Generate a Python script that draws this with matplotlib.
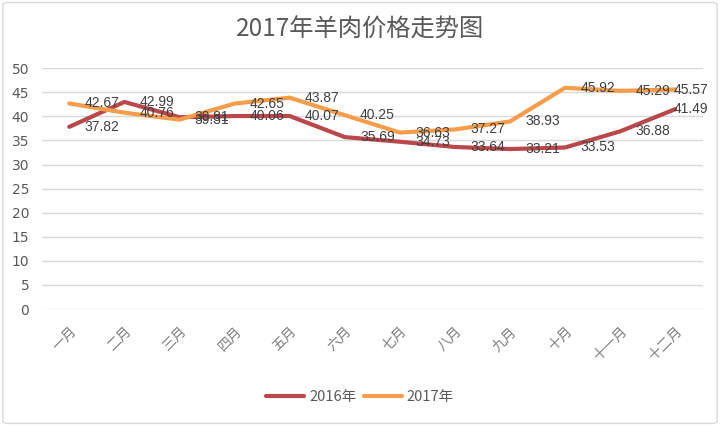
import matplotlib
matplotlib.use("Agg")
import matplotlib.pyplot as plt
from matplotlib.patches import FancyBboxPatch

plt.rcParams['font.family'] = ['Noto Sans CJK SC', 'DejaVu Sans']

months = ["一月", "二月", "三月", "四月", "五月", "六月", "七月", "八月", "九月", "十月", "十一月", "十二月"]
y2016 = [37.82, 42.99, 39.81, 40.06, 40.07, 35.69, 34.73, 33.64, 33.21, 33.53, 36.88, 41.49]
y2017 = [42.67, 40.76, 39.31, 42.65, 43.87, 40.25, 36.63, 37.27, 38.93, 45.92, 45.29, 45.57]
yticks = [0, 5, 10, 15, 20, 25, 30, 35, 40, 45, 50]

c16 = "#BA474A"
c17 = "#F59D4A"

fig = plt.figure(figsize=(7.2, 4.26), dpi=100)
ax = fig.add_axes([0.058, 0.2746, 0.918, 0.5654])
x = list(range(len(months)))
ax.plot(x, y2016, color=c16, lw=3.0, label="2016年", solid_joinstyle="round", solid_capstyle="round")
ax.plot(x, y2017, color=c17, lw=3.0, label="2017年", solid_joinstyle="round", solid_capstyle="round")

n = len(months)
for series in (y2016, y2017):
    for xi, v in zip(x, series):
        # labels sit to the right; the last one is pulled in to stay inside the chart
        dx = 11 if xi < n - 1 else -1
        ax.annotate(f"{v:.2f}", (xi, v), xytext=(dx, 0), textcoords="offset points",
                    ha="left", va="center", fontsize=10, color="#404040",
                    family=['Liberation Sans'])

ax.set_xlim(-0.5, n - 0.5)
ax.set_ylim(0, 50)
ax.set_yticks(yticks)
ax.set_xticks(x)
ax.set_xticklabels(months, rotation=45, ha="right", rotation_mode="anchor", fontsize=10, color="#7F7F7F")
for lab in ax.get_yticklabels():
    lab.set_fontsize(10)
    lab.set_color("#595959")
    lab.set_family(['DejaVu Sans'])
ax.tick_params(axis="y", length=0, pad=9)
ax.tick_params(axis="x", length=0, pad=11)
ax.grid(axis="y", color="#D9D9D9", lw=1)
ax.set_axisbelow(True)
for s in ax.spines.values():
    s.set_visible(False)

fig.text(0.5, 0.93, "2017年羊肉价格走势图", ha="center", va="center", fontsize=17.5, color="#595959")
fig.legend(loc="center", bbox_to_anchor=(0.5, 0.068), ncol=2, frameon=False, fontsize=10.5,
           handlelength=2.6, columnspacing=0.5, handletextpad=0.35, labelcolor="#595959")
fig.patches.append(FancyBboxPatch((0.004, 0.006), 0.992, 0.988, transform=fig.transFigure,
                                  boxstyle="round,pad=0,rounding_size=0.006",
                                  fill=False, edgecolor="#D9D9D9", lw=1))
fig.savefig("out.png", dpi=100)
